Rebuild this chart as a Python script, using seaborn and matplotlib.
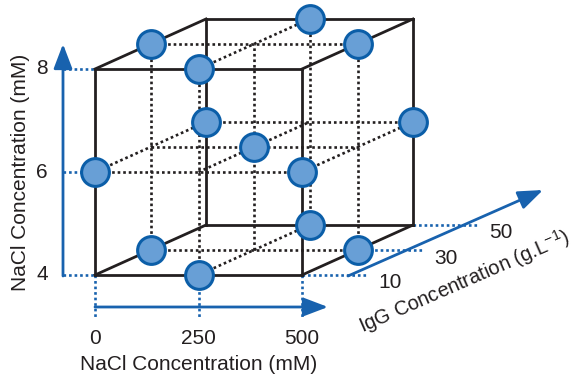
import matplotlib
matplotlib.use("Agg")
import matplotlib.pyplot as plt
import pandas as pd
import seaborn as sns

# factor levels
nacl_levels = [0, 250, 500]
y_levels = [4, 6, 8]
igg_levels = [10, 30, 50]

# Box-Behnken runs (edge midpoints + centre)
run_nacl = [0, 500, 0, 500, 0, 500, 0, 500, 250, 250, 250, 250, 250]
run_y = [4, 4, 8, 8, 6, 6, 6, 6, 4, 8, 4, 8, 6]
run_igg = [30, 30, 30, 30, 10, 10, 50, 50, 10, 10, 50, 50, 30]

BLUE = "#1862ae"
EDGE = "#0b5ea8"
FILL = "#689fd6"
INK = "#231f20"
FS = 15

sns.set_theme(style="white")
plt.rcParams["font.family"] = ["Liberation Sans", "DejaVu Sans"]
plt.rcParams["mathtext.fontset"] = "custom"
plt.rcParams["mathtext.rm"] = "Liberation Sans"


# oblique projection of the design space onto the page (pixel units)
def proj(x, y, z):
    px = 95 + (x - nacl_levels[0]) / (nacl_levels[-1] - nacl_levels[0]) * 207
    px += (z - igg_levels[0]) / (igg_levels[-1] - igg_levels[0]) * 111
    py = 275 - (y - y_levels[0]) / (y_levels[-1] - y_levels[0]) * 206
    py -= (z - igg_levels[0]) / (igg_levels[-1] - igg_levels[0]) * 50
    return px, py


def seg(ax, a, b, **kw):
    p, q = proj(*a), proj(*b)
    ax.plot([p[0], q[0]], [p[1], q[1]], **kw)


fig = plt.figure(figsize=(5.76, 3.84), dpi=100)
ax = fig.add_axes([0, 0, 1, 1])

x0, x1 = nacl_levels[0], nacl_levels[-1]
y0, y1 = y_levels[0], y_levels[-1]
z0, z1 = igg_levels[0], igg_levels[-1]
xm, ym, zm = nacl_levels[1], y_levels[1], igg_levels[1]

dot = dict(color=INK, lw=1.9, ls=(0, (1, 1.1)), zorder=2)
solid = dict(color=INK, lw=2.0, zorder=3, solid_capstyle="projecting")
bdot = dict(color=BLUE, lw=1.9, ls=(0, (1, 1.1)), zorder=2)

# inner dotted grid
for y in y_levels:
    seg(ax, (x0, y, zm), (x1, y, zm), **dot)
    seg(ax, (xm, y, z0), (xm, y, z1), **dot)
for z in (z0, z1):
    seg(ax, (x0, ym, z), (x1, ym, z), **dot)
for x in (x0, x1):
    seg(ax, (x, ym, z0), (x, ym, z1), **dot)
for x, z in [(x0, zm), (x1, zm), (xm, z0), (xm, z1), (xm, zm)]:
    seg(ax, (x, y0, z), (x, y1, z), **dot)

# cube edges
for y in (y0, y1):
    for z in (z0, z1):
        seg(ax, (x0, y, z), (x1, y, z), **solid)
    for x in (x0, x1):
        seg(ax, (x, y, z0), (x, y, z1), **solid)
for x in (x0, x1):
    for z in (z0, z1):
        seg(ax, (x, y0, z), (x, y1, z), **solid)

# design points
pts = pd.DataFrame({"nacl": run_nacl, "y": run_y, "igg": run_igg})
pts["px"], pts["py"] = proj(pts["nacl"], pts["y"], pts["igg"])
sns.scatterplot(data=pts, x="px", y="py", ax=ax, s=400, color=FILL,
                edgecolor=EDGE, linewidth=2.2, zorder=5, legend=False)
ax.set_xlim(0, 576)
ax.set_ylim(384, 0)
ax.axis("off")

arrow = dict(arrowstyle="-|>,head_length=1.0,head_width=0.38", color=BLUE,
             lw=2.0, mutation_scale=15, shrinkA=0, shrinkB=0)

# vertical axis
ax_x = proj(x0, y0, z0)[0] - 32
ax.annotate("", xy=(ax_x, 44), xytext=(ax_x, proj(x0, y0, z0)[1] + 1),
            arrowprops=arrow, zorder=4)
for y in y_levels:
    px, py = proj(x0, y, z0)
    ax.plot([ax_x, px], [py, py], **bdot)
    ax.text(ax_x - 21, py, str(y), ha="center", va="center", fontsize=FS, color=INK)
ax.text(21, 172, "NaCl Concentration (mM)", rotation=90, ha="center", va="center",
        fontsize=FS, color=INK)

# horizontal axis
base_y = proj(x0, y0, z0)[1]
ax.annotate("", xy=(328, base_y + 32), xytext=(proj(x0, y0, z0)[0], base_y + 32),
            arrowprops=arrow, zorder=4)
for x in nacl_levels:
    px, py = proj(x, y0, z0)
    ax.plot([px, px], [py, py + 43], **bdot)
    ax.text(px, py + 63, str(x), ha="center", va="center", fontsize=FS, color=INK)
ax.text(199, 365, "NaCl Concentration (mM)", ha="center", va="center",
        fontsize=FS, color=INK)

# depth axis
ax.annotate("", xy=(543, 190), xytext=(348, 276), arrowprops=arrow, zorder=4)
for z in igg_levels:
    px, py = proj(x1, y0, z)
    ax.plot([px, px + 66], [py, py], **bdot)
    ax.text(px + 88, py + 8, str(z), ha="center", va="center", fontsize=FS, color=INK)
ax.text(464, 282, r"IgG Concentration (g.L$^{\mathregular{-1}}$)", rotation=23.6,
        rotation_mode="anchor", ha="center", va="center", fontsize=14.5, color=INK)

fig.savefig("out.png", dpi=100)
